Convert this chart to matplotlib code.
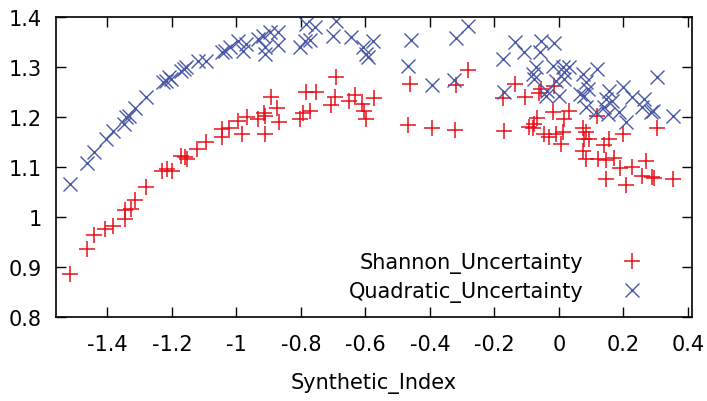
import matplotlib
matplotlib.use('Agg')
import matplotlib.pyplot as plt
from matplotlib.ticker import FuncFormatter

plt.rcParams['font.family'] = ['DejaVu Sans']

# ------------------------------------------------------------
# Data
# ------------------------------------------------------------
shannon_x = [-1.515, -1.464, -1.441, -1.407, -1.384, -1.346, -1.346, -1.328, -1.314,
             -1.280, -1.231, -1.216, -1.201, -1.172, -1.160, -1.154, -1.122, -1.094,
             -1.046, -1.046, -1.023, -0.995, -0.983, -0.966, -0.933, -0.914, -0.911,
             -0.893, -0.874, -0.869, -0.912, -0.804, -0.793, -0.773, -0.783, -0.754,
             -0.692, -0.695, -0.706, -0.652, -0.633, -0.611, -0.606, -0.597, -0.575,
             -0.461, -0.468, -0.393, -0.322, -0.318, -0.283, -0.174, -0.170, -0.135,
             -0.105, -0.092, -0.055, -0.061, -0.014, -0.020, 0.030, 0.017, -0.069,
             -0.076, -0.081, -0.045, -0.030, -0.009, 0.014, 0.006, 0.117, 0.076,
             0.084, 0.079, 0.094, 0.073, 0.084, 0.140, 0.156, 0.122, 0.146, 0.172,
             0.200, 0.189, 0.228, 0.270, 0.256, 0.290, 0.295, 0.146, 0.208, 0.303,
             0.354]
shannon_y = [0.885, 0.937, 0.964, 0.977, 0.983, 0.997, 1.014, 1.017, 1.034,
             1.061, 1.093, 1.096, 1.093, 1.123, 1.120, 1.117, 1.137, 1.151,
             1.176, 1.161, 1.179, 1.193, 1.167, 1.201, 1.197, 1.209, 1.203,
             1.241, 1.219, 1.191, 1.166, 1.197, 1.209, 1.213, 1.251, 1.251,
             1.280, 1.241, 1.224, 1.233, 1.245, 1.226, 1.213, 1.197, 1.239,
             1.267, 1.185, 1.178, 1.175, 1.265, 1.295, 1.238, 1.173, 1.267,
             1.240, 1.181, 1.257, 1.248, 1.263, 1.211, 1.213, 1.197, 1.198,
             1.186, 1.179, 1.166, 1.161, 1.167, 1.171, 1.147, 1.203, 1.179,
             1.171, 1.156, 1.156, 1.133, 1.116, 1.145, 1.156, 1.117, 1.115, 1.119,
             1.167, 1.099, 1.101, 1.113, 1.083, 1.081, 1.078, 1.077, 1.065, 1.179,
             1.077]

quadratic_x = [-1.515, -1.463, -1.441, -1.406, -1.382, -1.348, -1.342, -1.332, -1.314,
               -1.280, -1.229, -1.219, -1.208, -1.203, -1.172, -1.162, -1.157, -1.120,
               -1.095, -1.046, -1.036, -1.020, -0.995, -0.981, -0.969, -0.933, -0.917,
               -0.897, -0.871, -0.912, -0.912, -0.871, -0.804, -0.788, -0.773, -0.783,
               -0.757, -0.701, -0.692, -0.644, -0.608, -0.597, -0.577, -0.592, -0.460,
               -0.468, -0.393, -0.324, -0.319, -0.283, -0.174, -0.169, -0.135, -0.107,
               -0.055, -0.014, -0.058, -0.071, -0.076, -0.020, 0.011, 0.030, 0.017,
               -0.009, 0.017, -0.040, 0.001, -0.036, 0.076, 0.084, 0.089, 0.079,
               0.117, 0.084, 0.115, 0.146, 0.156, 0.140, 0.166, 0.187, 0.151, 0.200,
               0.208, 0.228, 0.264, 0.259, 0.285, 0.293, 0.304, 0.355, -0.081, 0.064]
quadratic_y = [1.066, 1.109, 1.131, 1.157, 1.173, 1.187, 1.200, 1.203, 1.219,
               1.240, 1.270, 1.273, 1.280, 1.277, 1.293, 1.297, 1.300, 1.313,
               1.313, 1.330, 1.333, 1.340, 1.353, 1.333, 1.347, 1.357, 1.363,
               1.370, 1.370, 1.340, 1.327, 1.345, 1.340, 1.353, 1.355, 1.387,
               1.380, 1.363, 1.392, 1.360, 1.340, 1.327, 1.353, 1.320, 1.355,
               1.303, 1.265, 1.275, 1.359, 1.382, 1.317, 1.250, 1.351, 1.330,
               1.353, 1.348, 1.330, 1.300, 1.277, 1.303, 1.300, 1.300, 1.290,
               1.273, 1.277, 1.243, 1.243, 1.253, 1.287, 1.270, 1.257, 1.243,
               1.297, 1.220, 1.211, 1.237, 1.253, 1.220, 1.233, 1.211, 1.207, 1.260,
               1.190, 1.240, 1.237, 1.220, 1.211, 1.212, 1.280, 1.203, 1.287, 1.247]

x_ticks = [-1.4, -1.2, -1.0, -0.8, -0.6, -0.4, -0.2, 0.0, 0.2, 0.4]
y_ticks = [0.8, 0.9, 1.0, 1.1, 1.2, 1.3, 1.4]

# ------------------------------------------------------------
# Plot (gnuplot-like look)
# ------------------------------------------------------------
fig = plt.figure(figsize=(7.07, 4.02), dpi=100)
ax = fig.add_axes([0.079, 0.209, 0.900, 0.746])

ax.plot(shannon_x, shannon_y, linestyle='none', marker='+', color='#e8101a',
        markersize=11, markeredgewidth=1.1, label='Shannon_Uncertainty')
ax.plot(quadratic_x, quadratic_y, linestyle='none', marker='x', color='#4a58a8',
        markersize=10, markeredgewidth=1.0, label='Quadratic_Uncertainty')

ax.set_xlim(-1.56, 0.413)
ax.set_ylim(0.8, 1.4)
ax.set_xticks(x_ticks)
ax.set_yticks(y_ticks)

fmt = FuncFormatter(lambda v, pos: ('%g' % round(v, 2)))
ax.xaxis.set_major_formatter(fmt)
ax.yaxis.set_major_formatter(fmt)

ax.tick_params(direction='in', length=7, width=1, labelsize=15,
               top=True, right=True)
ax.tick_params(axis='x', pad=12)
ax.tick_params(axis='y', pad=10)
for s in ax.spines.values():
    s.set_linewidth(1.2)

ax.set_xlabel('Synthetic_Index', fontsize=15, labelpad=13)

leg = ax.legend(loc='lower right', frameon=False, fontsize=15,
                markerfirst=False, handletextpad=1.3, labelspacing=0.4,
                bbox_to_anchor=(0.967, -0.013))

fig.savefig('out.png', dpi=100)
